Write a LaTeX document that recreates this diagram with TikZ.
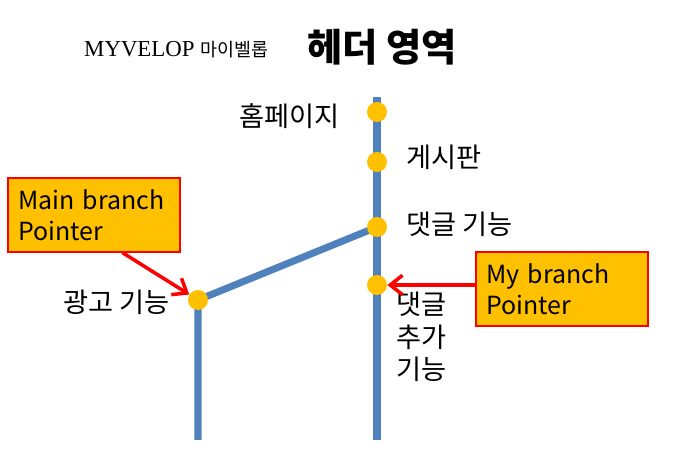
\documentclass[tikz,border=0pt]{standalone}
\usepackage{fontspec}
\setmainfont{Noto Sans CJK KR}
\newfontfamily\logofont{Liberation Serif}
\usetikzlibrary{arrows.meta,backgrounds}
\definecolor{gitblue}{HTML}{4F81BD}
\definecolor{gitdot}{HTML}{FFC000}
\tikzset{
	commit/.style={circle,fill=gitdot,minimum size=0.4cm,inner sep=0pt},
	branchline/.style={gitblue,line width=4pt},
	pointerbox/.style={draw=red,line width=0.6pt,fill=gitdot,align=left,text width=3.04cm,inner xsep=0.2cm,minimum height=1.48cm,font=\fontsize{14.2}{17.5}\selectfont},
	pointer/.style={red,line width=2pt,-{Straight Barb[length=7pt,width=11pt]}},
	label/.style={font=\fontsize{15.5}{18.5}\selectfont}
}
\begin{document}
\begin{tikzpicture}[x=0.02cm,y=-0.02cm]
			\useasboundingbox (0,0) rectangle (673,469);
			% header
			\node[anchor=west] (logo) at (78,50) {\logofont\fontsize{13}{15}\selectfont MYVELOP {\fontspec{Noto Sans CJK KR}\fontsize{10.5}{12}\selectfont 마이벨롭}};
			\node[anchor=west,font=\bfseries\fontsize{21.8}{26}\selectfont] (head) at (301,47) {헤더 영역};
			
			% commits
			\node[commit] (c1) at (377,112) {};
			\node[commit] (c2) at (377,162) {};
			\node[commit] (c3) at (377,227) {};
			\node[commit] (c4) at (377,285) {};
			\node[commit] (ad) at (198,300) {};
			\coordinate (top) at (377,97);
			\coordinate (bot) at (377,440);
			\coordinate (adbot) at (198,440);
			
			\begin{scope}[on background layer]
			\draw[branchline] (top) -- (bot);
			\draw[branchline] (c3.center) -- (ad.center) -- (adbot);
			\end{scope}
			
			% labels
			\node[label,anchor=east] (lhome) at (346,116) {홈페이지};
			\node[label,anchor=west] (lboard) at (400,157) {게시판};
			\node[label,anchor=west] (lcomm) at (400,224) {댓글 기능};
			\node[label,anchor=east] (lad) at (176,302) {광고 기능};
			\node[label,anchor=north west,align=left] (lmore) at (390,286) {댓글\\추가\\기능};
			
			% pointers
			\node[pointerbox] (mainp) at (94,215) {Main branch\\Pointer};
			\node[pointerbox] (myp) at (562,289) {My branch\\Pointer};
			\draw[pointer] (mainp.-53) -- (ad);
			\draw[pointer] (myp.west |- c4) -- (c4);
		\end{tikzpicture}
\end{document}
